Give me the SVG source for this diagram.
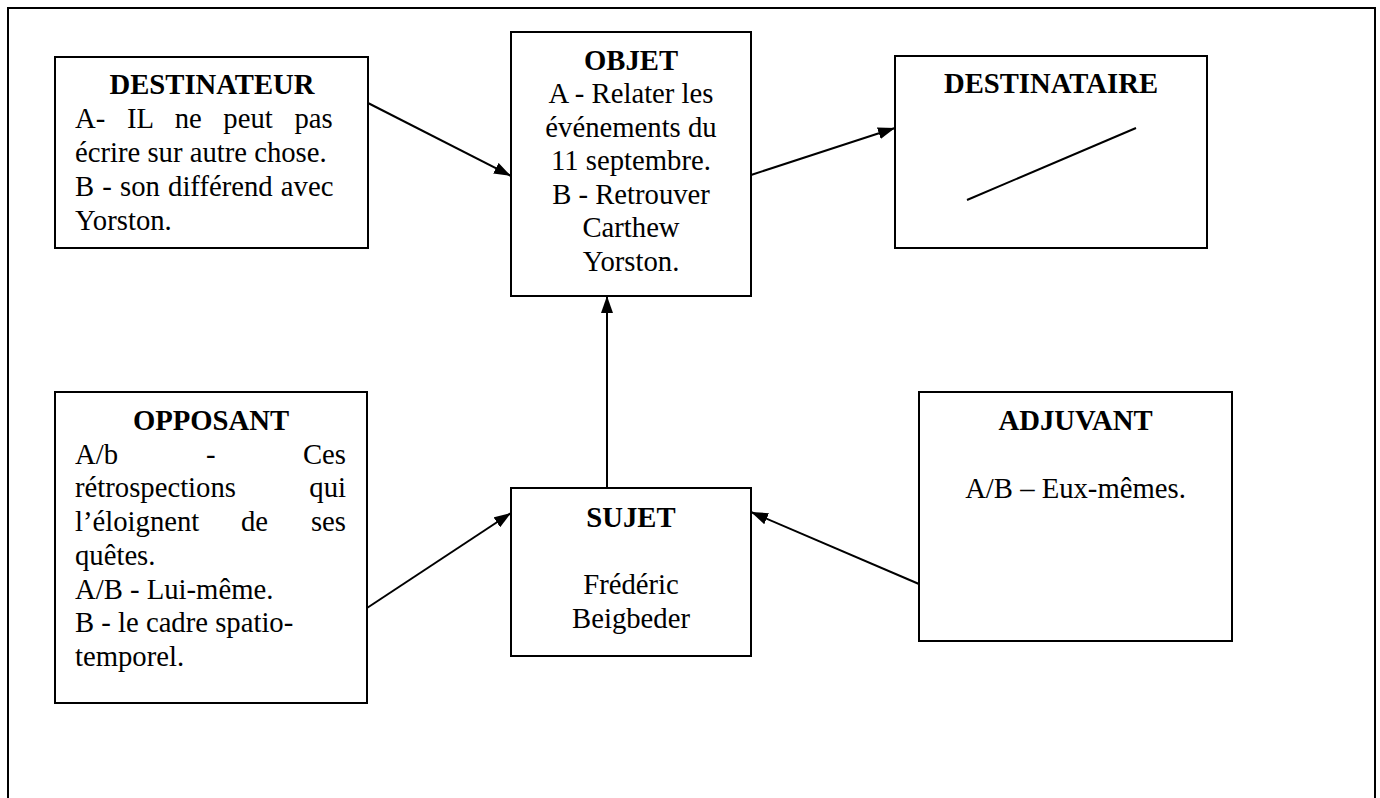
<svg xmlns="http://www.w3.org/2000/svg" width="1380" height="798" viewBox="0 0 1380 798">
<style>
  .box { fill: #fff; stroke: #000; stroke-width: 2; }
  .t { font-family: "Liberation Serif", "Times New Roman", serif; font-size: 28.7px; fill: #000; }
  .h { font-weight: bold; text-anchor: middle; }
  .c { text-anchor: middle; }
  .e { text-anchor: end; }
  .conn { stroke: #000; stroke-width: 2; fill: none; }
</style>
<defs>
  <marker id="ah" markerWidth="17" markerHeight="12" refX="17" refY="6" orient="auto" markerUnits="userSpaceOnUse">
    <path d="M0,0 L17,6 L0,12 z" fill="#000"/>
  </marker>
</defs>
<rect x="0" y="0" width="1380" height="798" fill="#fff"/>
<rect id="frame" x="8" y="8" width="1367" height="810" fill="none" stroke="#000" stroke-width="2"/>

<g id="destinateur">
  <rect class="box" x="55" y="57" width="313" height="191"/>
  <text class="t h" x="212" y="94">DESTINATEUR</text>
  <text class="t" x="75" y="128" style="word-spacing:14.5px">A- IL ne peut pas</text>
  <text class="t" x="75" y="162">écrire sur autre chose.</text>
  <text class="t" x="75" y="196" style="word-spacing:1px">B - son différend avec</text>
  <text class="t" x="75" y="230">Yorston.</text>
</g>

<g id="objet">
  <rect class="box" x="511" y="32" width="240" height="264"/>
  <text class="t h" x="631" y="70">OBJET</text>
  <text class="t c" x="631" y="103">A - Relater les</text>
  <text class="t c" x="631" y="136.5">événements du</text>
  <text class="t c" x="631" y="170">11 septembre.</text>
  <text class="t c" x="631" y="203.5">B - Retrouver</text>
  <text class="t c" x="631" y="237">Carthew</text>
  <text class="t c" x="631" y="271">Yorston.</text>
</g>

<g id="destinataire">
  <rect class="box" x="895" y="56" width="312" height="192"/>
  <text class="t h" x="1051" y="93">DESTINATAIRE</text>
  <line x1="967" y1="200" x2="1136" y2="128" stroke="#000" stroke-width="2"/>
</g>

<g id="opposant">
  <rect class="box" x="55" y="392" width="312" height="311"/>
  <text class="t h" x="211" y="430">OPPOSANT</text>
  <text class="t" x="75" y="463.5">A/b</text>
  <text class="t" x="206" y="463.5">-</text>
  <text class="t e" x="346" y="463.5">Ces</text>
  <text class="t" x="75" y="497">rétrospections</text>
  <text class="t e" x="346" y="497">qui</text>
  <text class="t" x="75" y="531">l’éloignent</text>
  <text class="t" x="241" y="531">de</text>
  <text class="t e" x="346" y="531">ses</text>
  <text class="t" x="75" y="565">quêtes.</text>
  <text class="t" x="75" y="598.5">A/B - Lui-même.</text>
  <text class="t" x="75" y="632">B - le cadre spatio-</text>
  <text class="t" x="75" y="666">temporel.</text>
</g>

<g id="sujet">
  <rect class="box" x="511" y="488" width="240" height="168"/>
  <text class="t h" x="631" y="527">SUJET</text>
  <text class="t c" x="631" y="593.5">Frédéric</text>
  <text class="t c" x="631" y="627.5">Beigbeder</text>
</g>

<g id="adjuvant">
  <rect class="box" x="919" y="392" width="313" height="249"/>
  <text class="t h" x="1075.5" y="430">ADJUVANT</text>
  <text class="t c" x="1075.5" y="498">A/B – Eux-mêmes.</text>
</g>

<g id="connectors">
  <line class="conn" x1="368" y1="103" x2="511" y2="176" marker-end="url(#ah)"/>
  <line class="conn" x1="751" y1="175" x2="895" y2="128" marker-end="url(#ah)"/>
  <line class="conn" x1="607" y1="488" x2="607" y2="296" marker-end="url(#ah)"/>
  <line class="conn" x1="367" y1="608" x2="511" y2="513" marker-end="url(#ah)"/>
  <line class="conn" x1="919" y1="584" x2="751" y2="512" marker-end="url(#ah)"/>
</g>
</svg>
